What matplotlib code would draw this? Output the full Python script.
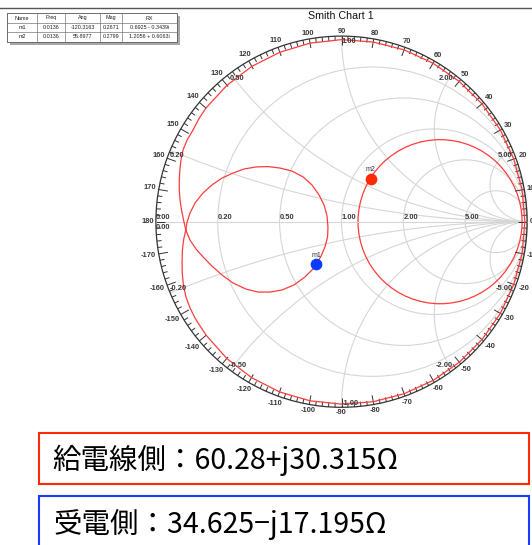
import matplotlib
matplotlib.use("Agg")
import matplotlib.pyplot as plt
import numpy as np
from matplotlib.patches import Circle, Arc, Rectangle
from matplotlib.collections import LineCollection

# ---- data (reflection coefficient plane) ----
GRID_R = [0.2, 0.5, 1.0, 2.0, 5.0]
GRID_X = [0.2, 0.5, 1.0, 2.0, 5.0]
ANGLE_LABELS = list(range(-170, 190, 10))

# sweep trace: small loop first, then the outer sweep near the rim (Gamma re / im)
LOOP_RE = [-0.839, -0.816, -0.784, -0.746, -0.698, -0.644, -0.585, -0.515, -0.450,
           -0.385, -0.321, -0.256, -0.197, -0.148, -0.110, -0.089, -0.075, -0.073,
           -0.078, -0.094, -0.121, -0.159, -0.207, -0.267, -0.331, -0.396, -0.461,
           -0.525, -0.585, -0.644, -0.698, -0.746, -0.789, -0.816, -0.832, -0.839]
LOOP_IM = [-0.045, -0.099, -0.147, -0.190, -0.239, -0.287, -0.330, -0.363, -0.379,
           -0.379, -0.368, -0.341, -0.298, -0.249, -0.185, -0.136, -0.082, -0.029,
           0.031, 0.090, 0.144, 0.198, 0.241, 0.273, 0.289, 0.297, 0.295,
           0.284, 0.262, 0.235, 0.198, 0.155, 0.101, 0.047, -0.002, -0.045]
OUTER_RE = [-0.839, -0.851, -0.857, -0.859, -0.858, -0.852, -0.838, -0.816, -0.789,
            -0.772, -0.729, -0.618, -0.485, -0.334, -0.170, 0.000, 0.171, 0.337,
            0.494, 0.635, 0.757, 0.856, 0.928, 0.973, 0.988, 0.973, 0.928, 0.856,
            0.757, 0.634, 0.493, 0.337, 0.171, 0.000, -0.170, -0.332, -0.483,
            -0.617, -0.730, -0.767, -0.800, -0.832, -0.854, -0.865, -0.871, -0.874,
            -0.874, -0.870, -0.862, -0.851, -0.839]
OUTER_IM = [-0.045, -0.099, -0.152, -0.217, -0.276, -0.341, -0.406, -0.465, -0.519,
            -0.547, -0.612, -0.737, -0.840, -0.917, -0.965, -0.983, -0.970, -0.927,
            -0.855, -0.757, -0.635, -0.494, -0.338, -0.172, 0.000, 0.172, 0.338, 0.494,
            0.635, 0.756, 0.854, 0.926, 0.968, 0.981, 0.962, 0.913, 0.837,
            0.735, 0.613, 0.557, 0.494, 0.440, 0.386, 0.332, 0.279, 0.225,
            0.171, 0.117, 0.063, 0.009, -0.045]

# second trace: circle (center on real axis)
CIRCLE_CENTER = (0.531, 0.0)
CIRCLE_RADIUS = 0.442

MARKER_NAMES = ["m1", "m2"]
MARKER_Z = [0.6925 - 0.3439j, 1.2056 + 0.6063j]
MARKER_COLORS = ["#0a3cff", "#ff2a00"]

TABLE_ROWS = [
    ["Name", "Freq", "Ang", "Mag", "RX"],
    ["m1", "0.0136", "-120.3163", "0.2671", "0.6925 - 0.3439i"],
    ["m2", "0.0136", "55.8977", "0.2799", "1.2056 + 0.6063i"],
]

NOTE_FEED = "給電線側：60.28+j30.315Ω"
NOTE_RECV = "受電側：34.625−j17.195Ω"

# ---- layout in pixels ----
W, H = 532, 545
CX, CY, R = 341.5, 221.7, 185.6


def g(x, y):
    """pixel position -> chart coords"""
    return (x - CX) / R, (CY - y) / R


fig = plt.figure(figsize=(W / 100, H / 100), dpi=100)
ax = fig.add_axes([0, 0, 1, 1])
ax.set_xlim((0 - CX) / R, (W - CX) / R)
ax.set_ylim((CY - H) / R, CY / R)
ax.axis("off")

grid_c = "#d6d6d6"
lab_font = dict(family="Liberation Sans", fontsize=5.4, fontweight="bold", color="#3a3a3a")

# top rule line
x0, y0 = g(0, 8)
x1, _ = g(W, 8)
ax.plot([x0, x1], [y0, y0], color="#555555", lw=1.0)

# constant resistance circles
for r in GRID_R:
    ax.add_patch(Circle((r / (1 + r), 0), 1 / (1 + r), fill=False, ec=grid_c, lw=0.8))
# constant reactance arcs
for x in GRID_X:
    for s in (1, -1):
        xv = s * x
        cyc = 1 / xv
        px_ = (x * x - 1) / (x * x + 1)
        py_ = 2 * xv / (x * x + 1)
        th = np.degrees(np.arctan2(py_ - cyc, px_ - 1)) % 360
        if s > 0:
            t1, t2 = th, 270
        else:
            t1, t2 = 90, th
        ax.add_patch(Arc((1, cyc), 2 / x, 2 / x, theta1=t1, theta2=t2, ec=grid_c, lw=0.8))
ax.plot([-1, 1], [0, 0], color=grid_c, lw=0.8)

# outer ring and ticks
ax.add_patch(Circle((0, 0), 1, fill=False, ec="#333333", lw=0.9))
segs = []
for d in range(-180, 180, 2):
    a = np.radians(d)
    ln = 0.05 if d % 10 == 0 else 0.025
    segs.append([(np.cos(a), np.sin(a)), ((1 - ln) * np.cos(a), (1 - ln) * np.sin(a))])
ax.add_collection(LineCollection(segs, colors="#333333", linewidths=0.7))

# angle labels
for d in ANGLE_LABELS:
    a = np.radians(d)
    txt = str(d)
    hw = 2.1 * len(txt) - (0.8 if d < 0 else 0)
    off = (hw * abs(np.cos(a)) + 2.7 * abs(np.sin(a)) + 2.2) / R
    ax.text((1 + off) * np.cos(a), (1 + off) * np.sin(a), txt,
            ha="center", va="center", **lab_font)

# resistance labels on the real axis
for r in GRID_R:
    ax.text((r - 1) / (r + 1), 0.002, f"{r:.2f}", ha="left", va="bottom", **lab_font)
ax.text(-1, 0.004, "0.00", ha="left", va="bottom", **lab_font)
ax.text(-1, -0.012, "0.00", ha="left", va="top", **lab_font)

# reactance labels at the rim
for x in GRID_X:
    px_ = (x * x - 1) / (x * x + 1)
    py_ = 2 * x / (x * x + 1)
    ha = "left" if px_ <= 0 else "right"
    ax.text(px_, py_ - 0.01, f"{x:.2f}", ha=ha, va="top", **lab_font)
    ax.text(px_, -py_ + 0.004, f"-{x:.2f}", ha=ha, va="bottom", **lab_font)

# traces
trace_c = "#ff3c3c"
ax.plot(LOOP_RE, LOOP_IM, color=trace_c, lw=0.9)
ax.plot(OUTER_RE, OUTER_IM, color=trace_c, lw=0.9)
ax.add_patch(Circle(CIRCLE_CENTER, CIRCLE_RADIUS, fill=False, ec=trace_c, lw=0.9))

# markers
for name, z, c in zip(MARKER_NAMES, MARKER_Z, MARKER_COLORS):
    gam = (z - 1) / (z + 1)
    ax.plot(gam.real, gam.imag, "o", color=c, ms=7.4, mec=c, zorder=5)
    ax.text(gam.real, gam.imag + 0.03, name, ha="center", va="bottom",
            family="Liberation Sans", fontsize=5, color="#333333")

# title
tx, ty = g(341, 16)
ax.text(tx, ty, "Smith Chart 1", ha="center", va="center",
        family="Liberation Sans", fontsize=7.7, color="#111111")

# marker table
col_x = [7.3, 36.7, 65, 100, 121.7, 176.7]
row_y = [13.3, 22.7, 32.3, 41.7]
sx0, sy0 = g(col_x[0] + 3, row_y[-1] + 3)
sx1, sy1 = g(col_x[-1] + 3, row_y[0] + 3)
ax.add_patch(Rectangle((sx0, sy0), sx1 - sx0, sy1 - sy0, fc="#a8a8a8", ec="none", zorder=6))
bx0, by0 = g(col_x[0], row_y[-1])
bx1, by1 = g(col_x[-1], row_y[0])
ax.add_patch(Rectangle((bx0, by0), bx1 - bx0, by1 - by0, fc="white", ec="#555555", lw=0.6, zorder=7))
for cx in col_x[1:-1]:
    a0 = g(cx, row_y[0])
    a1 = g(cx, row_y[-1])
    ax.plot([a0[0], a1[0]], [a0[1], a1[1]], color="#777777", lw=0.5, zorder=8)
for ry in row_y[1:-1]:
    a0 = g(col_x[0], ry)
    a1 = g(col_x[-1], ry)
    ax.plot([a0[0], a1[0]], [a0[1], a1[1]], color="#777777", lw=0.5, zorder=8)
for i, row in enumerate(TABLE_ROWS):
    for j, cell in enumerate(row):
        cx, cy = g((col_x[j] + col_x[j + 1]) / 2, (row_y[i] + row_y[i + 1]) / 2)
        ax.text(cx, cy, cell, ha="center", va="center", family="Liberation Sans",
                fontsize=3.9, color="#222222", zorder=9)

# impedance note boxes
for (x_a, y_a, x_b, y_b), col in [((39.3, 433.3, 529, 484.3), "#ff2a00"),
                                   ((39.3, 496, 529, 570), "#1a3cff")]:
    p0 = g(x_a, y_b)
    p1 = g(x_b, y_a)
    ax.add_patch(Rectangle(p0, p1[0] - p0[0], p1[1] - p0[1], fill=False, ec=col, lw=1.5))
jp = ["Noto Sans CJK JP", "DejaVu Sans"]
n1 = g(52.7, 460)
ax.text(n1[0], n1[1], NOTE_FEED, ha="left", va="center", family=jp, fontsize=20.5, color="black")
n2 = g(54, 524)
ax.text(n2[0], n2[1], NOTE_RECV, ha="left", va="center", family=jp, fontsize=20.5, color="black")

fig.savefig("out.png", dpi=100)
